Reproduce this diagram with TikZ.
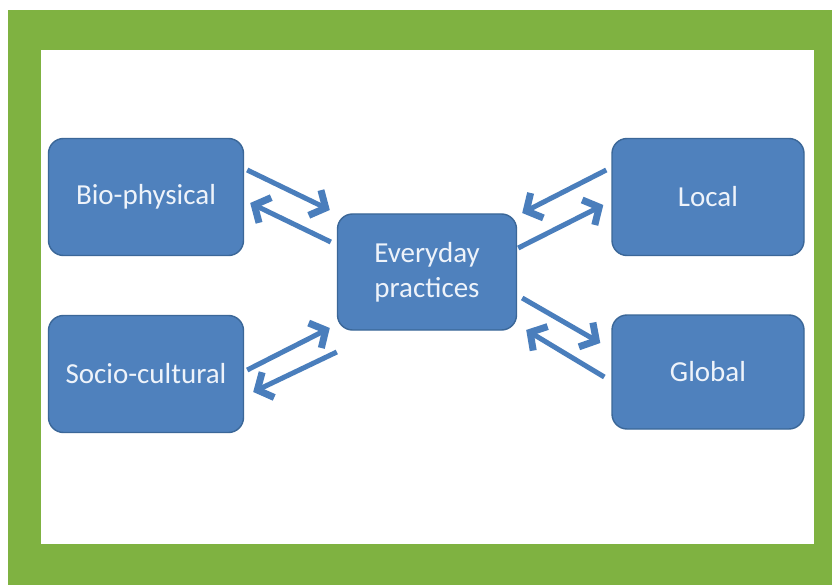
\documentclass[tikz,border=0pt]{standalone}
\usepackage{fontspec}
\setmainfont{Carlito}
\usetikzlibrary{arrows.meta}
\usetikzlibrary{positioning}
\definecolor{framegreen}{HTML}{7FB241}
\definecolor{boxblue}{HTML}{4F81BD}
\definecolor{boxline}{HTML}{3B6798}
\definecolor{arrowblue}{HTML}{4A7EBC}
\definecolor{boxtext}{HTML}{EEF3FA}

\begin{document}
\begin{tikzpicture}[x=1pt,y=-1pt,
                factor/.style={draw=boxline,fill=boxblue,line width=1.4pt,
                    rounded corners=15pt,text=boxtext,align=center,
                    font=\fontsize{29}{35}\selectfont,
                    minimum width=195pt,minimum height=117pt},
                flow/.style={draw=arrowblue,line width=5pt,
                    -{Straight Barb[length=12pt,width=28pt,line width=7pt,line join=miter]}}]
             \useasboundingbox (0,0) rectangle (832,585);
             \fill[framegreen] (8,10) rectangle (832,585);
             \fill[white] (41,50) rectangle (814,544);
             \node[factor] (bio) at (146,197) {Bio-physical};
             \node[factor] (socio) at (146,374) {Socio-cultural};
             \node[factor,minimum width=179pt,minimum height=116pt] (every) at (427,272) {Everyday\\practices};
             \node[factor,minimum width=192pt] (local) at (708,197) {Local};
             \node[factor,minimum width=192pt,minimum height=114pt] (global) at (708,372) {Global};
             \draw[flow] ([shift={(3,-27)}]bio.east) -- ([shift={(-7,-62)}]every.west);
             \draw[flow] ([shift={(-6,-30)}]every.west) -- ([shift={(6,6)}]bio.east);
             \draw[flow] ([shift={(3,-4)}]socio.east) -- ([shift={(-7,56)}]every.west);
             \draw[flow] ([shift={(0,80)}]every.west) -- ([shift={(9,18)}]socio.east);
             \draw[flow] ([shift={(-5,-27)}]local.west) -- ([shift={(5,-59)}]every.east);
             \draw[flow] ([shift={(1,-24)}]every.east) -- ([shift={(-8,8)}]local.west);
             \draw[flow] ([shift={(5,26)}]every.east) -- ([shift={(-11,-29)}]global.west);
             \draw[flow] ([shift={(-7,5)}]global.west) -- ([shift={(9,58)}]every.east);
             \end{tikzpicture}
\end{document}
